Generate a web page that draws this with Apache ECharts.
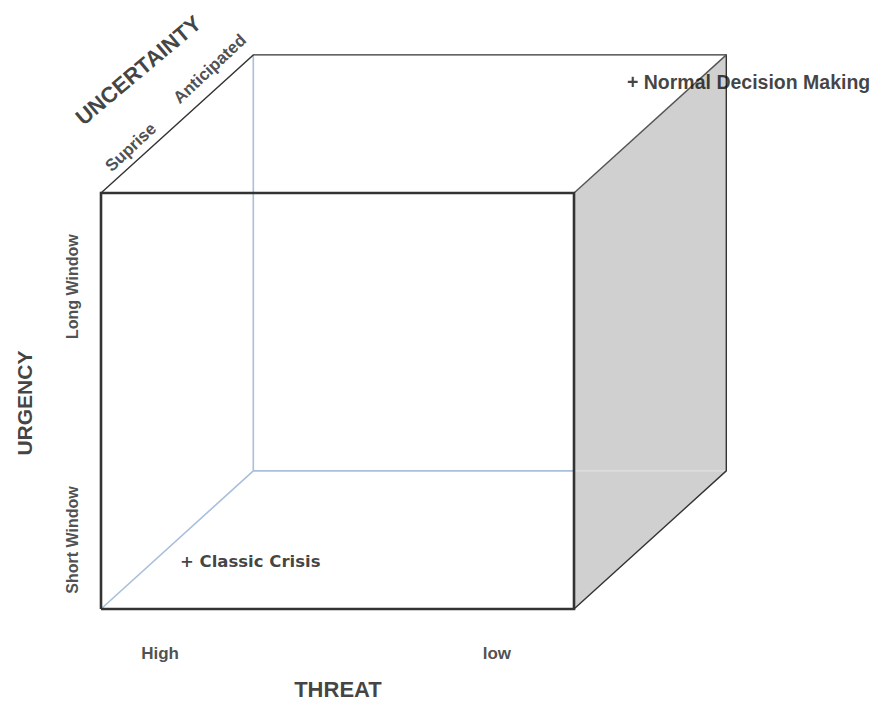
<!DOCTYPE html>
<html>
<head>
<meta charset="utf-8">
<script src="https://cdn.jsdelivr.net/npm/echarts@6/dist/echarts.min.js"></script>
<style>
html,body{margin:0;padding:0;background:#ffffff;}
#chart{width:883px;height:704px;}
</style>
</head>
<body>
<div id="chart"></div>
<script>
// ---- data ----
const cubeRange = [0, 100];                       // each dimension spans 0..100
const axisTitles = ['THREAT', 'URGENCY', 'UNCERTAINTY'];
const threatTicks = ['High', 'low'];
const urgencyTicks = ['Short Window', 'Long Window'];
const uncertaintyTicks = ['Suprise', 'Anticipated'];
const pointNames = ['Classic Crisis', 'Normal Decision Making'];
const pointThreat = [16.7, 79];
const pointUrgency = [11.5, 93.4];
const pointUncertainty = [0, 100];

// ---- oblique projection of (threat, urgency, uncertainty) onto the 2D value axes ----
const DEPTH_X = 0.322, DEPTH_Y = 0.332;
function proj(t, u, c) { return [t + c * DEPTH_X, u + c * DEPTH_Y]; }
const lo = cubeRange[0], hi = cubeRange[1];
const cut = hi - hi * DEPTH_X; // where the hidden back-bottom edge passes behind the right face

const shapes = [
  { kind: 'polygon', pts: [proj(hi,lo,lo), proj(hi,lo,hi), proj(hi,hi,hi), proj(hi,hi,lo)], fill: '#d0d0d0' },
  { kind: 'line', pts: [proj(lo,lo,lo), proj(lo,lo,hi), proj(lo,hi,hi)], stroke: '#a9bfdb', w: 1.6 },
  { kind: 'line', pts: [proj(lo,lo,hi), proj(cut,lo,hi)], stroke: '#a9bfdb', w: 1.6 },
  { kind: 'line', pts: [proj(cut,lo,hi), proj(hi,lo,hi)], stroke: '#e2e2e2', w: 1.4 },
  { kind: 'line', pts: [proj(lo,hi,lo), proj(lo,hi,hi), proj(hi,hi,hi), proj(hi,lo,hi), proj(hi,lo,lo)], stroke: '#333333', w: 1.4 },
  { kind: 'line', pts: [proj(hi,hi,lo), proj(hi,hi,hi)], stroke: '#555555', w: 1.4 },
  { kind: 'line', pts: [proj(lo,lo,lo), proj(hi,lo,lo), proj(hi,hi,lo), proj(lo,hi,lo), proj(lo,lo,lo)], stroke: '#333333', w: 2.6 }
];

const FONT = 'Liberation Sans';

function textSeries(items) {
  return {
    type: 'scatter', symbolSize: 0, clip: false, silent: true, animation: false, z: 10,
    data: items.map(it => ({
      value: it.pos,
      label: {
        show: true, position: 'inside', formatter: it.text, rotate: it.rotate || 0,
        align: it.align || 'center', verticalAlign: 'middle',
        fontFamily: it.font || FONT, fontSize: it.size, fontWeight: it.weight || 'bold',
        color: it.color || '#222'
      }
    }))
  };
}

const chart = echarts.init(document.getElementById('chart'), null, { renderer: 'svg' });

const labels = [
  { text: threatTicks[0], pos: [12.5, -10.6], size: 17 },
  { text: threatTicks[1], pos: [83.7, -10.6], size: 17 },
  { text: axisTitles[0], pos: [50.1, -19.4], size: 22, color: '#111' },
  { text: axisTitles[1], pos: [-16.1, 49.5], size: 21, rotate: 90, color: '#111' },
  { text: urgencyTicks[0], pos: [-6.1, 16.6], size: 16, rotate: 90 },
  { text: urgencyTicks[1], pos: [-6.1, 77.5], size: 16, rotate: 90 },
  { text: axisTitles[2], pos: [7.9, 129.5], size: 22, rotate: 40, color: '#111' },
  { text: uncertaintyTicks[0], pos: [6.3, 111], size: 17, rotate: 43 },
  { text: uncertaintyTicks[1], pos: [23, 129.8], size: 17, rotate: 43 }
];
const pointLabels = pointNames.map((n, i) => ({
  text: '+ ' + n,
  pos: proj(pointThreat[i], pointUrgency[i], pointUncertainty[i]),
  size: i === 0 ? 16.5 : 19.5, align: 'left', color: '#111',
  font: i === 0 ? 'DejaVu Sans' : FONT, weight: 'bold'
}));

chart.setOption({
  animation: false,
  backgroundColor: '#ffffff',
  grid: { left: 101, right: 309, top: 193, bottom: 95 },
  xAxis: { type: 'value', min: lo, max: hi, show: false },
  yAxis: { type: 'value', min: lo, max: hi, show: false },
  series: [
    {
      type: 'custom', clip: false, silent: true, z: 1, animation: false,
      data: [0],
      renderItem: function (params, api) {
        return {
          type: 'group',
          children: shapes.map(s => s.kind === 'polygon'
            ? { type: 'polygon', shape: { points: s.pts.map(p => api.coord(p)) }, style: { fill: s.fill, stroke: 'none' } }
            : { type: 'polyline', shape: { points: s.pts.map(p => api.coord(p)) }, style: { fill: 'none', stroke: s.stroke, lineWidth: s.w, lineJoin: 'miter' } })
        };
      }
    },
    textSeries(labels),
    textSeries(pointLabels)
  ]
});
</script>
</body>
</html>
